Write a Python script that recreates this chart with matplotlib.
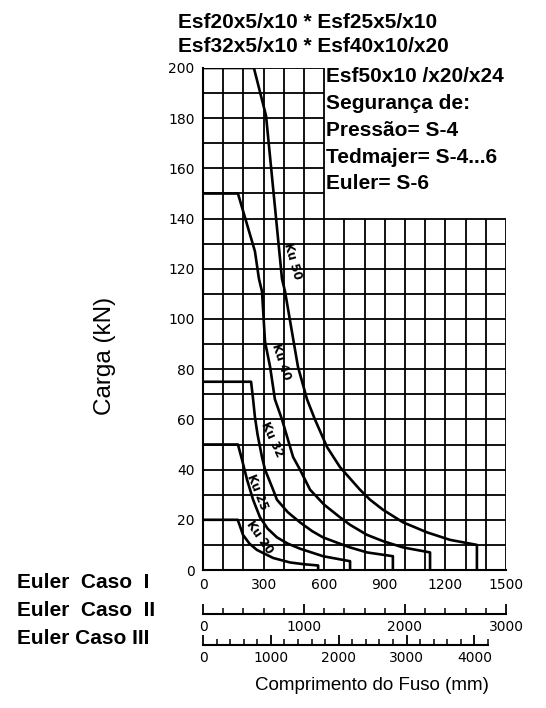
import numpy as np
import matplotlib.pyplot as plt

# comprimento (mm) x carga (kN)
ku20_L = [0, 172, 198, 230, 267, 347, 431, 500, 570, 570]
ku20_F = [20, 20, 14, 10.5, 8, 4.8, 3, 2.3, 1.8, 0]
ku25_L = [0, 173, 193, 218, 248, 282, 320, 366, 420, 480, 594, 728, 728]
ku25_F = [50, 50, 44, 36, 28, 21, 16.5, 13, 10.5, 8.5, 5.5, 3.5, 0]
ku32_L = [0, 238, 248, 257, 270, 292, 307, 347, 366, 420, 480, 540, 594, 660, 728, 812, 940, 940]
ku32_F = [75, 75, 68, 61, 54, 45, 40, 32, 28, 23, 19, 15.5, 13, 11, 9, 7, 5.5, 0]
ku40_L = [0, 173, 257, 277, 292, 307, 332, 356, 391, 446, 480, 530, 600, 678, 728, 812, 891, 990, 1124, 1124]
ku40_F = [150, 150, 127, 116, 111, 91, 81, 68, 60, 45, 40, 32, 26, 21, 18, 14, 11.5, 9, 7, 0]
ku50_L = [0, 252, 312, 391, 406, 470, 515, 554, 614, 678, 777, 827, 891, 990, 1109, 1223, 1356, 1356]
ku50_F = [200, 200, 181, 116, 111, 81, 68, 60, 49, 41, 32, 28, 24, 19, 15, 12, 10, 0]

curves = [(ku20_L, ku20_F), (ku25_L, ku25_F), (ku32_L, ku32_F), (ku40_L, ku40_F), (ku50_L, ku50_F)]
ku_labels = ["Ku 20", "Ku 25", "Ku 32", "Ku 40", "Ku 50"]
ku_pos = [(280, 13), (268, 31), (340, 52), (385, 83), (445, 123)]
ku_rot = [-55, -68, -65, -72, -74]

x_ticks = [0, 300, 600, 900, 1200, 1500]
y_ticks = [0, 20, 40, 60, 80, 100, 120, 140, 160, 180, 200]
caso2_ticks = [0, 1000, 2000, 3000]
caso3_ticks = [0, 1000, 2000, 3000, 4000]

titulo = ["Esf20x5/x10 * Esf25x5/x10", "Esf32x5/x10 * Esf40x10/x20"]
info = ["Esf50x10 /x20/x24", "Segurança de:", "Pressão= S-4", "Tedmajer= S-4...6", "Euler= S-6"]
casos = ["Euler  Caso  I", "Euler  Caso  II", "Euler Caso III"]

W, H = 546, 708
fig = plt.figure(figsize=(W / 100, H / 100), dpi=100)

def fx(x):
    return x / W

def fy(y):
    return 1 - y / H

ax = fig.add_axes([fx(203), fy(570), (506 - 203) / W, (570 - 68) / H])
ax.set_xlim(0, 1500)
ax.set_ylim(0, 200)

# grade (recortada no canto superior direito onde fica o texto)
for gx in range(0, 1501, 100):
    top = 200 if gx <= 600 else 140
    ax.vlines(gx, 0, top, color='black', lw=1.3, zorder=1)
for gy in range(0, 201, 10):
    right = 1500 if gy <= 140 else 600
    ax.hlines(gy, 0, right, color='black', lw=1.3, zorder=1)

for L, F in curves:
    ax.plot(L, F, color='black', lw=1.9, zorder=3, solid_joinstyle='round')

for lab, (lx, ly), r in zip(ku_labels, ku_pos, ku_rot):
    ax.text(lx, ly, lab, rotation=r, ha='center', va='center', fontsize=8.5,
            fontweight='bold', rotation_mode='anchor', zorder=4)

for s in ['top', 'right']:
    ax.spines[s].set_visible(False)
for s in ['left', 'bottom']:
    ax.spines[s].set_linewidth(1.5)
ax.set_xticks(x_ticks)
ax.set_yticks(y_ticks)
ax.tick_params(length=0, labelsize=10, pad=6)
ax.patch.set_visible(False)

def euler_axis(y_px, right_px, xmax, ticks):
    a = fig.add_axes([fx(203), fy(y_px), (right_px - 203) / W, 0.0005])
    for s in ['top', 'left', 'right']:
        a.spines[s].set_visible(False)
    a.spines['bottom'].set_linewidth(1.5)
    a.set_yticks([])
    a.set_xlim(0, xmax)
    a.set_xticks(ticks)
    a.set_xticks(np.arange(0, xmax + 1, 200), minor=True)
    a.tick_params(axis='x', which='major', direction='in', length=7, width=1.3,
                  labelsize=10, pad=4)
    a.tick_params(axis='x', which='minor', direction='in', length=4, width=1.1)
    a.patch.set_visible(False)
    return a

euler_axis(614, 506, 3000, caso2_ticks)
euler_axis(645, 488, 4200, caso3_ticks)

bold = dict(fontsize=15, fontweight='bold', family='Liberation Sans', va='center')
for i, t in enumerate(titulo):
    fig.text(fx(178), fy(22 + 25 * i), t, ha='left', **bold)
for i, t in enumerate(info):
    fig.text(fx(326), fy(77 + 26.7 * i), t, ha='left', **bold)
for i, t in enumerate(casos):
    fig.text(fx(17), fy(582 + 28 * i), t, ha='left', **bold)

fig.text(fx(105), fy(356), "Carga (kN)", rotation=90, ha='center', va='center',
         fontsize=17.5, family='Liberation Sans')
fig.text(fx(372), fy(685), "Comprimento do Fuso (mm)", ha='center', va='center',
         fontsize=13.5, family='Liberation Sans')

fig.savefig("out.png", dpi=100)
